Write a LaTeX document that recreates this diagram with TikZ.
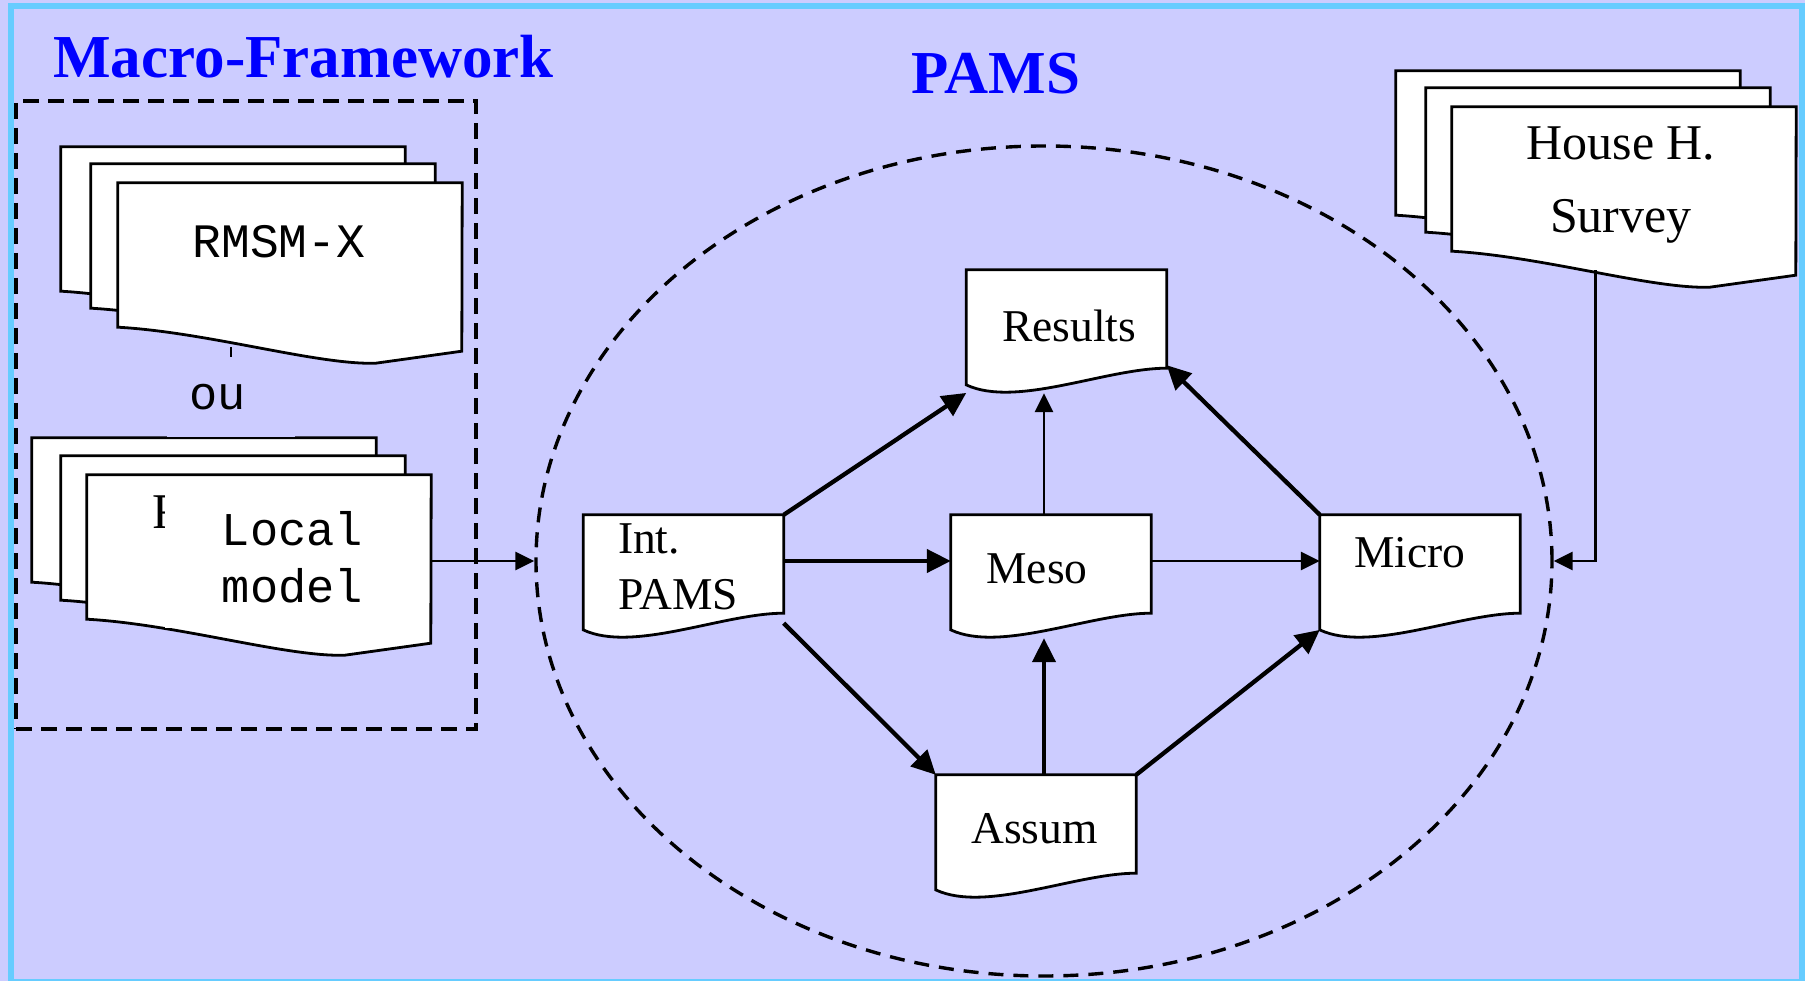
\documentclass[tikz,border=0pt]{standalone}
\usepackage{fontspec}
\setmainfont{Liberation Serif}
\newfontfamily\cour{Liberation Mono}
\usetikzlibrary{calc,arrows.meta,shapes.geometric}
\pgfdeclarelayer{bgl}
\pgfdeclarelayer{docs}
\pgfsetlayers{bgl,docs,main}
\definecolor{lav}{HTML}{CCCCFF}
\definecolor{framecol}{HTML}{66CCFF}
\definecolor{ttlcol}{HTML}{0000FF}
% place text: #1 = horizontal shift, #2 = raise of first baseline above node centre
\newcommand\plc[3]{\raisebox{#2pt}[0pt][0pt]{\makebox[0pt][c]{\hspace*{#1pt}\hspace*{#1pt}#3}}}
\newcommand\plcl[3]{\raisebox{#2pt}[0pt][0pt]{\makebox[0pt][l]{\hspace*{#1pt}#3}}}
\tikzset{
  docline/.style={fill=white, draw=black, line width=2.8pt, line join=miter},
  smalldoc/.style={rectangle, inner sep=0pt, minimum width=200pt, minimum height=98pt,
                   font=\fontsize{45.5}{56}\selectfont},
  bigdoc/.style={rectangle, inner sep=0pt, minimum width=344pt, minimum height=144pt},
  thickarr/.style={line width=4.3pt, -{Triangle[length=24pt,width=23pt]}},
  thinarr/.style={line width=2.8pt, -{Triangle[length=19pt,width=18pt]}},
  ttlstyle/.style={font=\fontsize{61}{61}\selectfont\bfseries, text=ttlcol, inner sep=0pt},
}
\newcommand\sdoc[1]{%
  \filldraw[docline] (#1.north west) -- (#1.north east) -- (#1.south east)
    .. controls ($(#1.south west)+(140,0)$) and ($(#1.south west)+(50,40)$) .. ($(#1.south west)+(0,16.7)$) -- cycle;
  \coordinate (#1-bl) at ($(#1.south west)+(0,16.7)$);}
\newcommand\bdoc[1]{%
  \filldraw[docline] (#1.north west) -- (#1.north east) -- ($(#1.south west)+(344,24)$)
    -- ($(#1.south west)+(258,36)$) .. controls ($(#1.south west)+(200,38)$) and ($(#1.south west)+(90,5)$) .. (#1.south west) -- cycle;}
\begin{document}
\begin{tikzpicture}[x=1pt,y=-1pt]
\useasboundingbox (0,0) rectangle (1805,981);
\begin{pgfonlayer}{bgl}
  \fill[lav] (0,0) rectangle (1805,981);
  \draw[framecol, line width=6pt] (11.3,6.3) rectangle (1802,982.3);
\end{pgfonlayer}

% titles
\node[ttlstyle, anchor=base] (tmacro) at (303.5,78) {Macro-Framework};
\node[ttlstyle, anchor=base] (tpams) at (996,94) {PAMS};

% macro-framework frame
\node[draw, line width=4.6pt, dash pattern=on 16pt off 9pt, minimum width=460pt,
      minimum height=628pt, inner sep=0pt] (macro) at (246,415) {};

% PAMS ellipse
\node[ellipse, draw, line width=3.4pt, dash pattern=on 15pt off 10pt, minimum width=1016pt,
      minimum height=830pt, inner sep=0pt] (pams) at (1044,561) {};

% stacked documents
\node[bigdoc] (rmsm3) at (233,219) {};
\node[bigdoc] (rmsm2) at (263,236) {};
\node[bigdoc, font=\cour\fontsize{48}{48}\selectfont] (rmsm) at (290,255) {\plc{-11}{-3}{RMSM-X}};
\node[bigdoc] (lm3) at (204,510) {};
\node[bigdoc] (lm2) at (233,528) {};
\node[bigdoc] (lm) at (259,547) {};
\node[bigdoc] (hh3) at (1568,143) {};
\node[bigdoc] (hh2) at (1598,160) {};
\node[bigdoc, font=\fontsize{50}{73}\selectfont] (hh) at (1624,179)
  {\plc{-3}{19}{\begin{tabular}[t]{@{}c@{}}House H.\\Survey\end{tabular}}};

% PAMS documents
\node[smalldoc] (res) at (1066.5,319) {\plc{2.5}{-23}{Results}};
\node[smalldoc] (int) at (683.5,564) {\plcl{-65.5}{11}{\begin{tabular}[t]{@{}l@{}}Int.\\PAMS\end{tabular}}};
\node[smalldoc] (meso) at (1051,564) {\plc{-14}{-19}{Meso}};
\node[smalldoc] (micro) at (1420,564) {\plc{-10.4}{-3}{Micro}};
\node[smalldoc] (assum) at (1036,824) {\plc{-1.5}{-19}{Assum}};

\begin{pgfonlayer}{docs}
  \bdoc{rmsm3}\bdoc{rmsm2}\bdoc{rmsm}
  \bdoc{lm3}\bdoc{lm2}\bdoc{lm}
  \bdoc{hh3}\bdoc{hh2}\bdoc{hh}
  \sdoc{res}\sdoc{int}\sdoc{meso}\sdoc{micro}\sdoc{assum}
\end{pgfonlayer}

% partly hidden letter and local model label (white patch)
\node[anchor=base west, inner sep=0pt, font=\fontsize{50}{50}\selectfont] (frag) at (152,528) {R};
\node[fill=white, inner sep=0pt, minimum width=255pt, minimum height=143pt,
      font=\cour\fontsize{47}{57}\selectfont] (lmtxt) at (292.5,556.5)
  {\plc{0}{11.5}{\begin{tabular}[t]{@{}c@{}}Local\\model\end{tabular}}};

% "ou" link
\coordinate (rmout) at ($(rmsm.south west)+(113,20)$);
\draw[line width=2pt, -{Triangle[length=5pt,width=5pt]}] (rmout) -- (rmout |- lm3.north);
\node[fill=lav, inner sep=0pt, minimum width=128pt, minimum height=80pt,
      font=\cour\fontsize{47}{47}\selectfont] (ou) at ($(rmout)+(0,50)$) {\plc{-13}{-12}{ou}};

% inputs to PAMS
\draw[thinarr] (lm.east |- pams.west) -- (pams.west);
\coordinate (hhout) at ($(hh.south west)+(144,19)$);
\draw[thinarr] (hhout) |- (pams.east);

% internal flows
\draw[thickarr] (int.north east) -- ([yshift=-8pt]res-bl);
\draw[thickarr] (int.east |- pams.center) -- (meso.west |- pams.center);
\draw[thickarr] ($(int.south east)+(0,10)$) -- (assum.north west);
\draw[thinarr] (meso.north -| pams.center) -- ($(res.south -| pams.center)+(0,25)$);
\draw[thickarr] (assum.north -| pams.center) -- ($(meso.south -| pams.center)+(0,25)$);
\draw[thinarr] (meso.east |- pams.center) -- (micro.west |- pams.center);
\draw[thickarr] (micro.north west) -- ([yshift=3pt]res.south east);
\draw[thickarr] (assum.north east) -- (micro-bl);
\end{tikzpicture}
\end{document}
